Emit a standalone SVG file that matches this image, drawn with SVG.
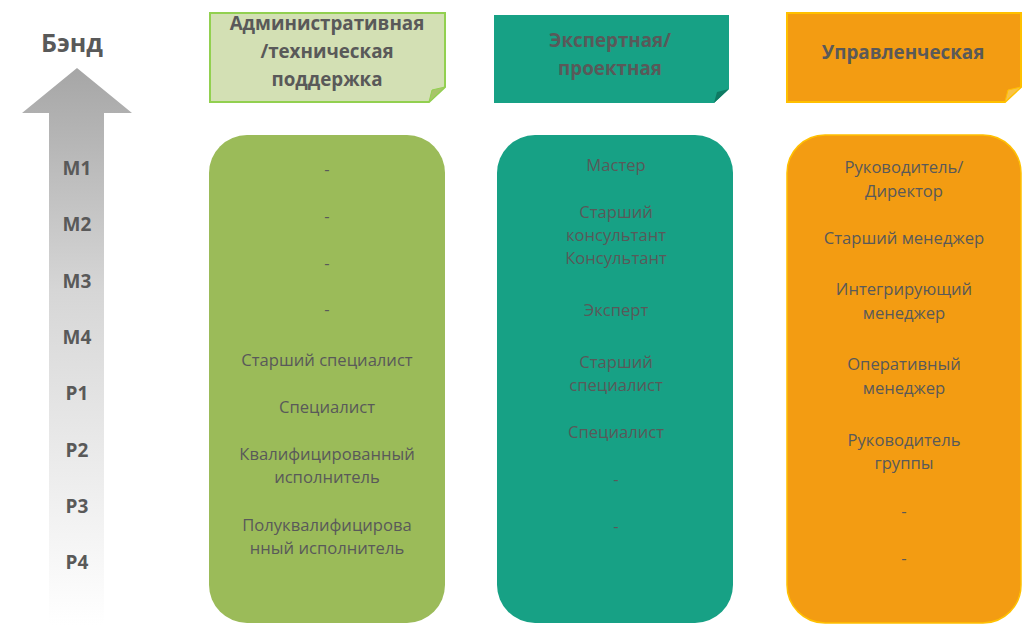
<svg xmlns="http://www.w3.org/2000/svg" width="1024" height="625" viewBox="0 0 1024 625">
<defs>
<linearGradient id="arrowGrad" x1="0" y1="0" x2="0" y2="1">
<stop offset="0" stop-color="#a6a6a6"/>
<stop offset="0.4" stop-color="#d6d6d6"/>
<stop offset="1" stop-color="#ffffff"/>
</linearGradient>
<style>
.band{font-family:"Open Sans","Liberation Sans",sans-serif;font-weight:bold;font-size:19px;fill:#595959;text-anchor:middle;dominant-baseline:central}
.hdr{font-family:"Open Sans","Liberation Sans",sans-serif;font-weight:bold;font-size:18.8px;fill:#595959;text-anchor:middle;dominant-baseline:central}
.item{font-family:"Open Sans","Liberation Sans",sans-serif;font-size:16.6px;fill:#595959;text-anchor:middle;dominant-baseline:central}
</style>
</defs>
<rect width="1024" height="625" fill="#ffffff"/>
<g id="band-axis">
<text class="band" x="72" y="42" style="font-size:25px">Бэнд</text>
<path d="M77 68 L132 113 L104 113 L104 625 L49 625 L49 113 L22 113 Z" fill="url(#arrowGrad)"/>
<text class="band" x="77" y="168">M1</text>
<text class="band" x="77" y="224">M2</text>
<text class="band" x="77" y="281">M3</text>
<text class="band" x="77" y="337">M4</text>
<text class="band" x="77" y="393">P1</text>
<text class="band" x="77" y="450">P2</text>
<text class="band" x="77" y="506">P3</text>
<text class="band" x="77" y="562">P4</text>
</g>
<g id="header-admin">
<path d="M210 13 H445 V87 L429 102 H210 Z" fill="#d3e0b4" stroke="#92d050" stroke-width="2"/>
<path d="M429 102 L432 90 L445 87 Z" fill="#a8c46a" stroke="#92d050" stroke-width="1"/>
<text class="hdr" x="327" y="23">Административная</text>
<text class="hdr" x="327" y="51">/техническая</text>
<text class="hdr" x="327" y="79">поддержка</text>
</g>
<g id="header-expert">
<path d="M494 15 H729 V89 L714 103 H494 Z" fill="#17a185"/>
<path d="M714 103 L717 92 L729 89 Z" fill="#0e7a63"/>
<text class="hdr" x="610" y="40">Экспертная/</text>
<text class="hdr" x="610" y="68">проектная</text>
</g>
<g id="header-manager">
<path d="M787 13 H1021 V87 L1005 102 H787 Z" fill="#f39c12" stroke="#ffc000" stroke-width="2"/>
<path d="M1005 102 L1008 90 L1021 87 Z" fill="#f8c24a" stroke="#ffc000" stroke-width="1"/>
<text class="hdr" x="903" y="52">Управленческая</text>
</g>
<g id="column-admin">
<rect x="209" y="135" width="236" height="488" rx="38" fill="#9bbb59"/>
<text class="item" x="327" y="168">-</text>
<text class="item" x="327" y="215">-</text>
<text class="item" x="327" y="262">-</text>
<text class="item" x="327" y="308">-</text>
<text class="item" x="327" y="359">Старший специалист</text>
<text class="item" x="327" y="406">Специалист</text>
<text class="item" x="327" y="453">Квалифицированный</text>
<text class="item" x="327" y="476">исполнитель</text>
<text class="item" x="327" y="524">Полуквалифицирова</text>
<text class="item" x="327" y="547">нный исполнитель</text>
</g>
<g id="column-expert">
<rect x="497" y="135" width="236" height="488" rx="38" fill="#17a185"/>
<text class="item" x="616" y="164">Мастер</text>
<text class="item" x="616" y="211">Старший</text>
<text class="item" x="616" y="234">консультант</text>
<text class="item" x="616" y="257">Консультант</text>
<text class="item" x="616" y="309">Эксперт</text>
<text class="item" x="616" y="361">Старший</text>
<text class="item" x="616" y="384">специалист</text>
<text class="item" x="616" y="431">Специалист</text>
<text class="item" x="616" y="478">-</text>
<text class="item" x="616" y="525">-</text>
</g>
<g id="column-manager">
<rect x="787" y="135" width="234" height="488" rx="38" fill="#f39c12" stroke="#ffc000" stroke-width="1.5"/>
<text class="item" x="904" y="166">Руководитель/</text>
<text class="item" x="904" y="190">Директор</text>
<text class="item" x="904" y="237">Старший менеджер</text>
<text class="item" x="904" y="288">Интегрирующий</text>
<text class="item" x="904" y="312">менеджер</text>
<text class="item" x="904" y="363">Оперативный</text>
<text class="item" x="904" y="387">менеджер</text>
<text class="item" x="904" y="439">Руководитель</text>
<text class="item" x="904" y="462">группы</text>
<text class="item" x="904" y="510">-</text>
<text class="item" x="904" y="557">-</text>
</g>
<g id="connectors"></g>
</svg>
